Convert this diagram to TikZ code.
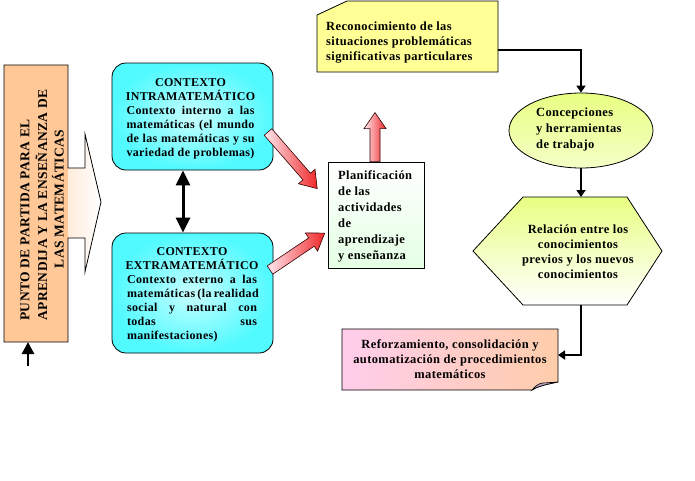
\documentclass[tikz,border=0pt]{standalone}
\usepackage{fontspec}
\setmainfont{Liberation Serif}
\newfontfamily\tf{Liberation Serif}[LetterSpace=3]
\usetikzlibrary{arrows.meta,shapes.geometric,calc}
\definecolor{peach}{RGB}{255,200,150}
\definecolor{pinkl}{RGB}{255,232,240}
\definecolor{cyanb}{RGB}{80,250,255}
\definecolor{cyanl}{RGB}{200,255,255}
\definecolor{yel}{RGB}{255,255,150}
\definecolor{ygreen}{RGB}{230,255,130}
\definecolor{redarr}{RGB}{240,40,40}
\definecolor{pinkr}{RGB}{255,205,235}
\definecolor{peachr}{RGB}{255,205,170}
\definecolor{foldc}{RGB}{190,160,190}
\newcommand\blockarrow[4]{% name, tail, angle, length
  \coordinate (#1) at #2;
  \begin{scope}[shift={(#1)}, rotate=#3]
    \shade[draw=black!80!red, line width=0.6pt, left color=pinkl, right color=redarr]
      (0,-5) -- (#4-16,-5) -- (#4-16,-11) -- (#4,0) -- (#4-16,11) -- (#4-16,5) -- (0,5) -- cycle;
  \end{scope}}
\begin{document}
\begin{tikzpicture}[x=1pt,y=-1pt,
  txt/.style={font={\tf\bfseries\fontsize{12.5}{15}\selectfont}, inner sep=0pt},
  cytxt/.style={font={\tf\bfseries\fontsize{12}{14}\selectfont}, inner sep=0pt},
  bigtxt/.style={font={\tf\bfseries\fontsize{13.5}{16}\selectfont}, inner sep=0pt},
  outl/.style={draw=black, line width=0.8pt},
  thickarr/.style={line width=2.8pt, -{Triangle[length=7pt,width=9pt]}},
  dblarr/.style={line width=3pt, {Triangle[length=15pt,width=14pt]}-{Triangle[length=15pt,width=14pt]}},
  uparr/.style={line width=2.6pt, -{Triangle[length=12pt,width=12pt]}}]
\useasboundingbox (0,0) rectangle (695,480);

% left callout
\shade[left color=peach, right color=white]
  (4,65) -- (68,65) -- (68,168) -- (85,168) -- (85,134) -- (101,202) -- (85,272) -- (85,238) -- (68,238) -- (68,342) -- (4,342) -- cycle;
\fill[peach] (4,65) rectangle (68,342);
\draw[outl] (4,65) -- (68,65) -- (68,168) -- (85,168) -- (85,134) -- (101,202) -- (85,272) -- (85,238) -- (68,238) -- (68,342) -- (4,342) -- cycle;
\coordinate (leftS) at (28,342);
\coordinate (leftT) at (28,366);
\node[bigtxt, rotate=90] (l1) at (25,220) {PUNTO DE PARTIDA PARA EL};
\node[bigtxt, rotate=90] (l2) at (41.5,205) {APRENDIJA Y LA ENSEÑANZA DE};
\node[bigtxt, rotate=90] (l3) at (58,199) {LAS MATEMÁTICAS};
\draw[uparr] (leftT) -- (leftS);

% cyan boxes
\node[outl, rounded corners=14pt, inner color=cyanl, outer color=cyanb,
  minimum width=161pt, minimum height=107pt, inner sep=0pt] (intra) at (192.5,116.5) {};
\node[outl, rounded corners=14pt, inner color=cyanl, outer color=cyanb,
  minimum width=161pt, minimum height=120pt, inner sep=0pt] (extra) at (192.5,293) {};
\node[cytxt, align=center] (intratxt) at (190.5,119) {CONTEXTO\\INTRAMATEMÁTICO\\
  \makebox[128pt][s]{Contexto interno a las}\\
  \makebox[128pt][s]{matemáticas (el mundo}\\
  \makebox[128pt][s]{de las matemáticas y su}\\
  \makebox[128pt][s]{variedad de problemas)}};
\node[cytxt, align=center] (extratxt) at (192,294.5) {CONTEXTO\\EXTRAMATEMÁTICO\\
  \makebox[130pt][s]{Contexto externo a las}\\
  \makebox[130pt][s]{matemáticas (la realidad}\\
  \makebox[130pt][s]{social y natural con}\\
  \makebox[130pt][s]{todas sus}\\
  \makebox[130pt][l]{manifestaciones)}};
\draw[dblarr] ([xshift=-9.5pt]intra.south) -- ([xshift=-9.5pt]extra.north);

% planificacion
\node[outl, top color=white, bottom color={rgb,255:red,228;green,255;blue,228},
  minimum width=96pt, minimum height=106pt, inner sep=0pt] (plan) at (376,215) {};
\node[txt, anchor=west, align=left, font={\tf\bfseries\fontsize{12.5}{16}\selectfont}] (plantxt) at (338,216)
  {Planificación\\de las\\actividades\\de\\aprendizaje\\y enseñanza};

% block arrows
\blockarrow{ba1}{(268,132)}{-49}{75}
\blockarrow{ba2}{(270,270)}{34}{66}
\blockarrow{ba3}{(plan.north -| 375,0)}{90}{49}

% reconocimiento
\path[outl, fill=yel] (317,15) -- (347,1) -- (498,1) -- (498,72) -- (317,72) -- cycle;
\coordinate (reconE) at (498,50);
\node[txt, anchor=west, align=left] (recontxt) at (326,43)
  {Reconocimiento de las\\situaciones problemáticas\\significativas particulares};

% ellipse
\node[outl, ellipse, top color=ygreen, bottom color=ygreen!45!white,
  minimum width=144pt, minimum height=75pt, inner sep=0pt] (ell) at (581,130.5) {};
\node[txt, anchor=west, align=left, font={\tf\bfseries\fontsize{12.5}{16}\selectfont}] (elltxt) at (536,129)
  {Concepciones\\y herramientas\\de trabajo};
\draw[thickarr] (reconE) -| (ell.north);

% hexagon
\path[outl, top color=ygreen, bottom color=white]
  (523,197) -- (627,197) -- (662,251) -- (627,305) -- (523,305) -- (473,251) -- cycle;
\coordinate (hexN) at (581,197);
\coordinate (hexS) at (581,305);
\node[txt, align=center] (hextxt) at (578,252)
  {Relación entre los\\conocimientos\\previos y los nuevos\\conocimientos};
\draw[thickarr] (ell.south -| hexN) -- (hexN);

% reforzamiento
\path[outl, left color=pinkr, right color=peachr]
  (342,329) -- (558,329) -- (558,382) .. controls (548,384) and (538,386) .. (532,390) -- (342,390) -- cycle;
\path[draw=black, line width=0.6pt, fill=foldc] (532,390) .. controls (536,385) and (540,383) .. (543,383) -- (558,382) .. controls (548,384) and (538,386) .. (532,390) -- cycle;
\coordinate (refE) at (558,355);
\node[txt, align=center] (reftxt) at (450,359)
  {Reforzamiento, consolidación y\\automatización de procedimientos\\matemáticos};
\draw[thickarr] (hexS) |- (refE);
\end{tikzpicture}
\end{document}
